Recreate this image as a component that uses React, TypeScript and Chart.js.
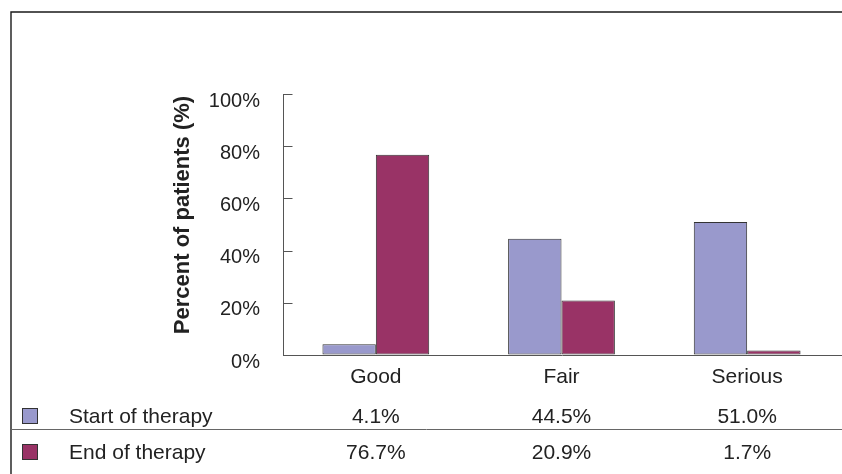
import React, { useEffect, useRef } from "react";
import { Chart, registerables } from "chart.js";

Chart.register(...registerables);

const categories = ["Good", "Fair", "Serious"];
const seriesNames = ["Start of therapy", "End of therapy"];
const startValues = [4.1, 44.5, 51.0];
const endValues = [76.7, 20.9, 1.7];
const startLabels = ["4.1%", "44.5%", "51.0%"];
const endLabels = ["76.7%", "20.9%", "1.7%"];
const yTicks = [0, 20, 40, 60, 80, 100];

const BLUE = "#9999cc";
const RED = "#993366";
const EDGE = "#333333";
const TEXT = "#222222";
const FONT = "'Liberation Sans', Arial, Helvetica, sans-serif";

export default function App() {
  const ref = useRef<HTMLCanvasElement | null>(null);

  useEffect(() => {
    const canvas = ref.current;
    if (!canvas) return;

    const tablePlugin = {
      id: "tablePlugin",
      afterDraw(chart: any) {
        const ctx = chart.ctx as CanvasRenderingContext2D;
        const x = chart.scales.x;
        const y = chart.scales.y;
        const area = chart.chartArea;
        const W = chart.width;
        const H = chart.height;
        ctx.save();

        // outer frame
        ctx.strokeStyle = "#1a1a1a";
        ctx.lineWidth = 1.4;
        ctx.beginPath();
        ctx.moveTo(11, H);
        ctx.lineTo(11, 12);
        ctx.lineTo(W, 12);
        ctx.stroke();

        // baseline
        const y0 = Math.round(y.getPixelForValue(0)) + 0.5;
        ctx.strokeStyle = "#555555";
        ctx.lineWidth = 1;
        ctx.beginPath();
        ctx.moveTo(area.left, y0);
        ctx.lineTo(W, y0);
        ctx.stroke();

        // inward ticks
        const ax = Math.round(area.left) + 0.5;
        ctx.beginPath();
        yTicks.forEach((v) => {
          const py = Math.round(y.getPixelForValue(v)) + 0.5;
          ctx.moveTo(ax, py);
          ctx.lineTo(ax + 9, py);
        });
        ctx.stroke();

        // table separator
        ctx.strokeStyle = "#666666";
        ctx.beginPath();
        ctx.moveTo(11, 429.5);
        ctx.lineTo(W, 429.5);
        ctx.stroke();

        // y title
        ctx.fillStyle = TEXT;
        ctx.font = `bold 22px ${FONT}`;
        ctx.textAlign = "center";
        ctx.textBaseline = "alphabetic";
        ctx.save();
        ctx.translate(189, 215);
        ctx.rotate(-Math.PI / 2);
        ctx.fillText("Percent of patients (%)", 0, 0);
        ctx.restore();

        // table rows
        const rows = [
          { name: seriesNames[0], color: BLUE, labels: startLabels, cy: 417 },
          { name: seriesNames[1], color: RED, labels: endLabels, cy: 453 },
        ];
        ctx.font = `21px ${FONT}`;
        rows.forEach((r) => {
          ctx.fillStyle = r.color;
          ctx.fillRect(22, r.cy - 9, 16, 16);
          ctx.strokeStyle = EDGE;
          ctx.lineWidth = 1;
          ctx.strokeRect(22.5, r.cy - 8.5, 15, 15);
          ctx.fillStyle = TEXT;
          ctx.textAlign = "left";
          ctx.textBaseline = "middle";
          ctx.fillText(r.name, 69, r.cy);
          ctx.textAlign = "center";
          r.labels.forEach((t, i) => {
            ctx.fillText(t, x.getPixelForValue(i), r.cy);
          });
        });
        ctx.restore();
      },
    };

    const chart = new Chart(canvas, {
      type: "bar",
      data: {
        labels: categories,
        datasets: [
          {
            label: seriesNames[0],
            data: startValues,
            backgroundColor: BLUE,
            borderColor: EDGE,
            borderWidth: 1,
            borderSkipped: false,
            categoryPercentage: 0.575,
            barPercentage: 1,
          },
          {
            label: seriesNames[1],
            data: endValues,
            backgroundColor: RED,
            borderColor: EDGE,
            borderWidth: 1,
            borderSkipped: false,
            categoryPercentage: 0.575,
            barPercentage: 1,
          },
        ],
      },
      options: {
        responsive: false,
        animation: false,
        devicePixelRatio: 1,
        layout: { padding: { left: 163, top: 94, right: 2, bottom: 59 } },
        plugins: {
          legend: { display: false },
          tooltip: { enabled: false },
          title: { display: false },
        },
        scales: {
          x: {
            afterFit: (s: any) => {
              s.height = 60;
            },
            grid: { display: true, drawOnChartArea: false, drawTicks: false },
            border: { display: false },
            ticks: {
              color: TEXT,
              font: { family: FONT, size: 21 },
              padding: 10,
            },
          },
          y: {
            min: 0,
            max: 100,
            afterFit: (s: any) => {
              s.width = 120;
            },
            afterBuildTicks: (s: any) => {
              s.ticks = yTicks.map((v) => ({ value: v }));
            },
            grid: { display: true, drawOnChartArea: false, drawTicks: false },
            border: { display: true, color: "#555555", width: 1 },
            ticks: {
              color: TEXT,
              font: { family: FONT, size: 20 },
              padding: 23,
              labelOffset: 7,
              callback: (v: any) => `${v}%`,
            },
          },
        },
      },
      plugins: [tablePlugin],
    });

    return () => chart.destroy();
  }, []);

  return (
    <div style={{ position: "fixed", left: 0, top: 0, width: 842, height: 474, background: "#fff" }}>
      <canvas ref={ref} width={842} height={474} style={{ display: "block" }} />
    </div>
  );
}
